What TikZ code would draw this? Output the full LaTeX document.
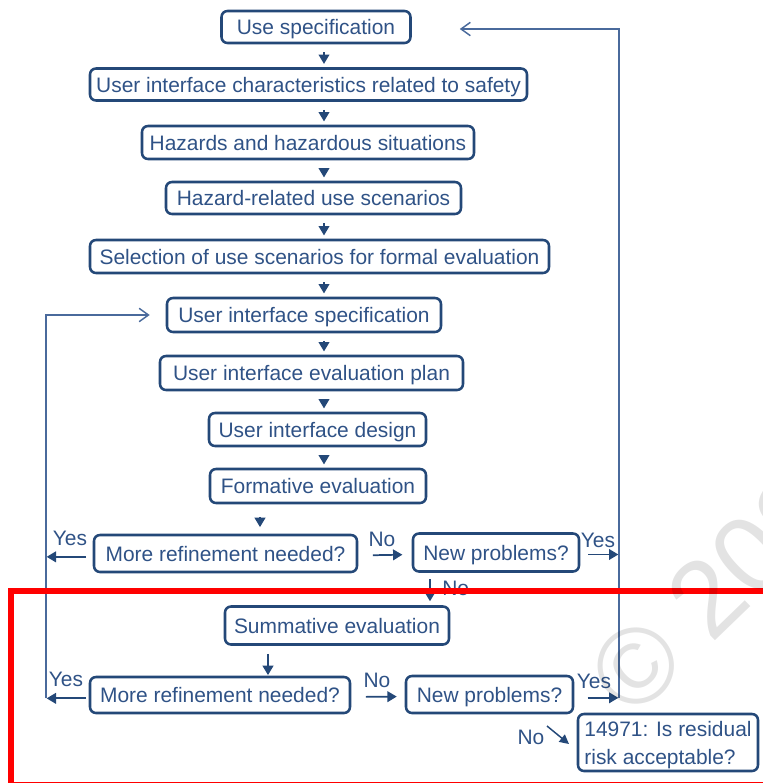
\documentclass[tikz,border=0pt]{standalone}
\usepackage{fontspec}
\setmainfont{Liberation Sans}
\usetikzlibrary{arrows.meta}
\definecolor{bxc}{HTML}{244878}
\definecolor{txc}{HTML}{2F5286}
\definecolor{lnc}{HTML}{4A6A9C}
\begin{document}
\begin{tikzpicture}[x=0.75pt,y=-0.75pt,
  font=\fontsize{15.7}{21}\selectfont,
  box/.style={draw=bxc, line width=1.9pt, rounded corners=4.5pt, text=txc, inner sep=0pt, align=center, text height=14.9pt, text depth=3.3pt},
  box2/.style={draw=bxc, line width=1.9pt, rounded corners=4.5pt, text=txc, inner sep=0pt, align=left, text depth=-2.5pt},
  sz/.style 2 args={minimum width=#1*0.75pt, minimum height=#2*0.75pt},
  arr/.style={draw=bxc, line width=1.3pt, -{Triangle[width=8pt,length=7pt]}},
  loopln/.style={draw=lnc, line width=1.1pt},
  lbl/.style={text=txc, inner sep=0pt},
  openarr/.style={-{Straight Barb[length=7pt,width=10pt,line width=1.1pt]}}
]
\useasboundingbox (0,0) rectangle (763,783);
\clip (0,0) rectangle (763,783);

% column coordinates
\coordinate (ax) at (324,0);
\coordinate (cf) at (260,0);
\coordinate (cs) at (268,0);
\coordinate (cn) at (430,0);
\coordinate (rloop) at (619,0);
\coordinate (lloop) at (46,0);

% boxes
\node[box,sz={189}{32}] (n1) at (316,27) {Use specification};
\node[box,sz={437}{32}] (n2) at (308.5,84.5) {User interface characteristics related to safety};
\node[box,sz={332}{33}] (n3) at (308,142.5) {Hazards and hazardous situations};
\node[box,sz={295}{32}] (n4) at (313.5,198) {Hazard-related use scenarios};
\node[box,sz={459}{33}] (n5) at (319.5,256.5) {Selection of use scenarios for formal evaluation};
\node[box,sz={274}{34}] (n6) at (304,315) {User interface specification};
\node[box,sz={303}{34}] (n7) at (311.5,373) {User interface evaluation plan};
\node[box,sz={217}{33}] (n8) at (317.5,429.5) {User interface design};
\node[box,sz={216}{34}] (n9) at (318,486) {Formative evaluation};
\node[box,sz={263}{37}] (n10) at (225.5,553.5) {More refinement needed?};
\node[box,sz={166}{38}] (n11) at (496,552.5) {New problems?};
\node[box,sz={224}{38}] (n12) at (337,625.5) {Summative evaluation};
\node[box,sz={260}{36}] (n13) at (220,695) {More refinement needed?};
\node[box,sz={167}{37}] (n14) at (489.5,694.5) {New problems?};
\node[box2,sz={180}{57}] (n15) at (668,742.5) {14971: Is residual\\risk acceptable?};

% straight-down arrows
\foreach \a/\b in {n1/n2,n2/n3,n3/n4,n4/n5,n5/n6,n6/n7,n7/n8,n8/n9}{
  \draw[arr, shorten <=6pt, shorten >=2.5pt] (\a.south -| ax) -- (\b.north -| ax);
}
\draw[arr, shorten <=9.5pt, shorten >=5pt] (n9.south -| cf) -- (n10.north -| cf);
\draw[arr, shorten <=6pt, shorten >=0.5pt] (n12.south -| cs) -- (n13.north -| cs);
\draw[arr, shorten <=5pt, shorten >=3pt] (n11.south -| cn) -- (n12.north -| cn);
\node[lbl, anchor=west] (lno3) at (442,588) {No};

% horizontal No arrows
\draw[arr, shorten <=11pt, shorten >=7pt] ([yshift=-1.5pt]n10.east) -- ([yshift=-1.5pt]n11.west);
\node[lbl] (lno1) at (382,539) {No};
\draw[arr, shorten <=11pt, shorten >=6pt] ([yshift=-1.5pt]n13.east) -- ([yshift=-1.5pt]n14.west);
\node[lbl] (lno2) at (377,680) {No};

% Yes arrows to right loop
\draw[arr, shorten <=6pt, shorten >=0.5pt] ([yshift=-1.5pt]n11.east) -- ([yshift=-1.5pt]n11.east -| rloop);
\node[lbl] (lyes1) at (598,540) {Yes};
\draw[arr, shorten <=10pt, shorten >=0.5pt] ([yshift=-2.5pt]n14.east) -- ([yshift=-2.5pt]n14.east -| rloop);
\node[lbl] (lyes2) at (594,681) {Yes};

% right loop back to Use specification
\coordinate (rbot) at ([yshift=-2.5pt]n14.east -| rloop);
\coordinate (rtop) at ([yshift=-1.5pt]rloop |- n1);
\draw[loopln, openarr, shorten >=36pt] (rbot) -- (rtop) -- ([yshift=-1.5pt]n1.east);

% Yes arrows to left loop
\draw[arr, shorten <=5pt, shorten >=0.5pt] ([yshift=-2.5pt]n10.west) -- ([yshift=-2.5pt]n10.west -| lloop);
\node[lbl] (lyes3) at (70,538) {Yes};
\draw[arr, shorten <=2pt, shorten >=0.5pt] ([yshift=-2.5pt]n13.west) -- ([yshift=-2.5pt]n13.west -| lloop);
\node[lbl] (lyes4) at (66,679) {Yes};

% left loop back to User interface specification
\coordinate (lbot) at ([yshift=-2.5pt]n13.west -| lloop);
\coordinate (ltop) at (lloop |- n6);
\draw[loopln, openarr, shorten >=12pt] (lbot) -- (ltop) -- (n6.west);

% No to 14971
\node[lbl] (lno4) at (531,737) {No};
\coordinate (d1) at (547,726);
\coordinate (d2) at (569,744);
\draw[arr, line width=1.1pt, -{Triangle[width=7pt,length=7pt]}] (d1) -- (d2);

% red frame
\draw[red, line width=4.5pt] (11,591) rectangle (840,785);

% watermark
\node[text=black, opacity=0.11, rotate=44, anchor=west, inner sep=0pt,
      font=\fontsize{81}{81}\selectfont] (wm) at (607,694) {© 2020};
\end{tikzpicture}
\end{document}
